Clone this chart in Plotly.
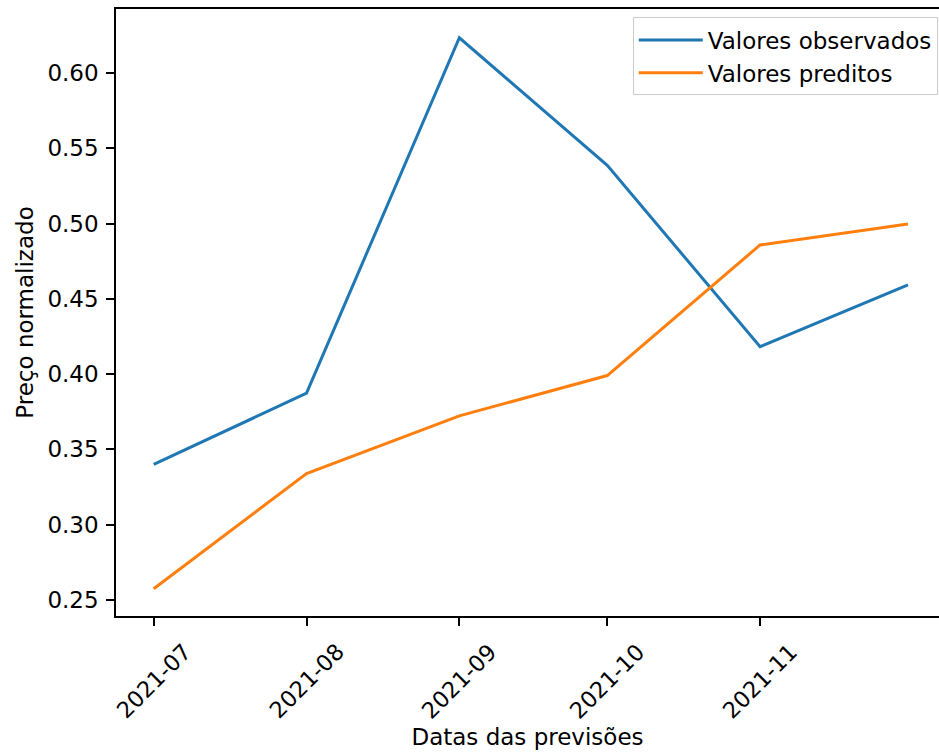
import plotly.graph_objects as go

# Monthly forecast dates and normalized prices
datas = ["2021-07-01", "2021-08-01", "2021-09-01", "2021-10-01", "2021-11-01", "2021-12-01"]
observados = [0.3399, 0.3873, 0.6235, 0.5387, 0.4182, 0.4593]
preditos = [0.2573, 0.3339, 0.3722, 0.3990, 0.4858, 0.4997]

# Tick dates on the x axis and their labels
tick_datas = ["2021-07-01", "2021-08-01", "2021-09-01", "2021-10-01", "2021-11-01"]
tick_labels = ["2021-07", "2021-08", "2021-09", "2021-10", "2021-11"]
y_ticks = [0.25, 0.30, 0.35, 0.40, 0.45, 0.50, 0.55, 0.60]

FONT = "DejaVu Sans"
FS = 23

fig = go.Figure()
fig.add_trace(go.Scatter(x=datas, y=observados, mode="lines", name="Valores observados",
                         line=dict(color="#1f77b4", width=3)))
fig.add_trace(go.Scatter(x=datas, y=preditos, mode="lines", name="Valores preditos",
                         line=dict(color="#ff7f0e", width=3)))

# Rotated month labels, centred under each tick
for d, lab in zip(tick_datas, tick_labels):
    fig.add_annotation(x=d, y=0, xref="x", yref="paper", text=lab, showarrow=False,
                       textangle=-45, xanchor="center", yanchor="top", yshift=-20,
                       font=dict(family=FONT, size=22.5, color="#000000"))

fig.update_layout(
    width=939, height=753,
    margin=dict(l=116, r=0, t=9, b=137),
    paper_bgcolor="white", plot_bgcolor="white",
    font=dict(family=FONT, size=FS, color="#000000"),
    legend=dict(x=0.9985, y=0.986, xanchor="right", yanchor="top",
                bgcolor="rgba(255,255,255,0.8)", bordercolor="#cccccc", borderwidth=1,
                itemwidth=64,
                font=dict(family=FONT, size=FS)),
    xaxis=dict(type="date", range=["2021-06-23 08:24", "2021-12-07 07:00"],
               tickvals=tick_datas, showticklabels=False,
               ticks="outside", ticklen=8, tickwidth=1.5, tickcolor="black",
               showline=True, linecolor="black", linewidth=1.5, mirror=True,
               showgrid=False, zeroline=False,
               title=dict(text="Datas das previsões", standoff=104,
                          font=dict(family=FONT, size=FS))),
    yaxis=dict(range=[0.2392, 0.6426], tickvals=y_ticks, tickformat=".2f",
               ticks="outside", ticklen=8, tickwidth=1.5, tickcolor="black",
               ticklabelstandoff=3,
               showline=True, linecolor="black", linewidth=1.5,
               showgrid=False, zeroline=False,
               title=dict(text="Preço normalizado", standoff=7,
                          font=dict(family=FONT, size=FS))),
)

fig.write_html("out.html")
